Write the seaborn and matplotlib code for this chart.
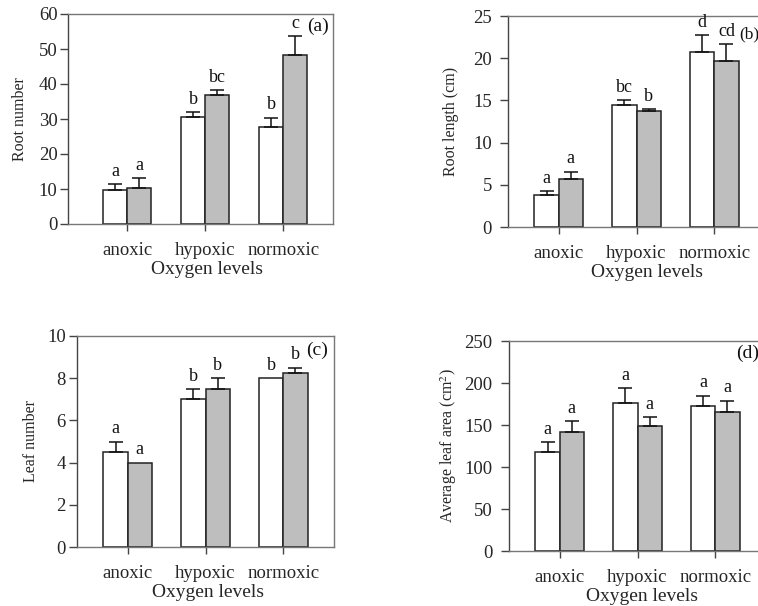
"""Root and leaf traits under three oxygen levels (four-panel bar chart)"""

import matplotlib
matplotlib.use('Agg')
import matplotlib.pyplot as plt
from matplotlib.container import BarContainer
import pandas as pd
import seaborn as sns

# categories
levels = ['anoxic', 'hypoxic', 'normoxic']
groups = ['white', 'grey']

# (a) root number
root_num_white = [9.7, 30.6, 27.6]
root_num_white_err = [1.8, 1.4, 2.8]
root_num_grey = [10.4, 36.9, 48.4]
root_num_grey_err = [2.7, 1.3, 5.4]
root_num_letters = [['a', 'b', 'b'], ['a', 'bc', 'c']]

# (b) root length
root_len_white = [3.83, 14.4, 20.75]
root_len_white_err = [0.4, 0.6, 1.95]
root_len_grey = [5.73, 13.7, 19.7]
root_len_grey_err = [0.83, 0.3, 1.95]
root_len_letters = [['a', 'bc', 'd'], ['a', 'b', 'cd']]

# (c) leaf number
leaf_num_white = [4.5, 7.0, 8.0]
leaf_num_white_err = [0.5, 0.5, 0.0]
leaf_num_grey = [4.0, 7.5, 8.25]
leaf_num_grey_err = [0.0, 0.5, 0.25]
leaf_num_letters = [['a', 'b', 'b'], ['a', 'b', 'b']]

# (d) average leaf area
leaf_area_white = [118.0, 175.8, 172.6]
leaf_area_white_err = [12.0, 18.2, 12.4]
leaf_area_grey = [141.3, 149.2, 165.5]
leaf_area_grey_err = [13.1, 10.3, 13.5]
leaf_area_letters = [['a', 'a', 'a'], ['a', 'a', 'a']]

sns.set_theme(style='white')
plt.rcParams['font.family'] = ['Liberation Serif', 'DejaVu Serif']
plt.rcParams['mathtext.fontset'] = 'stix'

W, H = 758, 606
fig = plt.figure(figsize=(W / 100, H / 100), dpi=100)


def px_axes(left, top, right, bottom):
    return fig.add_axes([left / W, 1 - bottom / H, (right - left) / W, (bottom - top) / H])


def panel(ax, white, white_err, grey, grey_err, letters, ylim, yticks, ylabel,
          tag, tag_xy, xlim, xlabel_x, ypad=3, lpad=8, tag_ha='center', tag_size=14):
    df = pd.DataFrame({
        'level': levels * 2,
        'group': [groups[0]] * 3 + [groups[1]] * 3,
        'value': list(white) + list(grey),
    })
    sns.barplot(data=df, x='level', y='value', hue='group', order=levels,
                hue_order=groups, palette=['white', '#bebebe'], width=0.62, gap=0,
                edgecolor='#222222', linewidth=1.1, errorbar=None, legend=False, ax=ax)
    errs = [white_err, grey_err]
    vals = [white, grey]
    span = ylim[1] - ylim[0]
    bars = [c for c in ax.containers if isinstance(c, BarContainer)]
    for gi, cont in enumerate(bars):
        for i, bar in enumerate(cont):
            xc = bar.get_x() + bar.get_width() / 2
            top = vals[gi][i] + errs[gi][i]
            if errs[gi][i] > 0:
                ax.errorbar(xc, vals[gi][i], yerr=[[0], [errs[gi][i]]], fmt='none',
                            ecolor='#111111', elinewidth=1.1, capsize=5, capthick=1.1)
            ax.text(xc, top + span * 0.02, letters[gi][i], ha='center', va='bottom',
                    fontsize=13, color='#111111')
    ax.set_xlim(*xlim)
    ax.set_ylim(*ylim)
    ax.set_yticks(yticks)
    ax.set_xlabel('Oxygen levels', fontsize=14)
    ax.xaxis.label.set_va('center')
    ax.xaxis.set_label_coords(xlabel_x, -0.215)
    ax.set_ylabel(ylabel, fontsize=11.5, labelpad=lpad)
    ax.tick_params(axis='y', direction='out', length=6, width=1, color='#444444',
                   labelsize=13.5, pad=ypad, left=True)
    ax.tick_params(axis='x', direction='out', length=5, width=1, color='#444444',
                   labelsize=13.5, pad=8, bottom=True)
    for side in ['top', 'right', 'bottom']:
        ax.spines[side].set_color('#777777')
        ax.spines[side].set_linewidth(1)
    ax.spines['left'].set_color('#444444')
    ax.spines['left'].set_linewidth(1)
    ax.text(tag_xy[0], tag_xy[1], tag, transform=ax.transAxes, ha=tag_ha,
            va='center', fontsize=tag_size, color='#111111')


ax_a = px_axes(68, 14, 333, 224)
panel(ax_a, root_num_white, root_num_white_err, root_num_grey, root_num_grey_err,
      root_num_letters, (0, 60), range(0, 61, 10), 'Root number', '(a)', (0.945, 0.94),
      (-0.76, 2.64), 0.525, ypad=1.5, lpad=8)

ax_b = px_axes(508, 16, 765, 227)
panel(ax_b, root_len_white, root_len_white_err, root_len_grey, root_len_grey_err,
      root_len_letters, (0, 25), range(0, 26, 5), 'Root length (cm)', '(b)',
      ((739 - 508) / 257, 0.915), (-0.65, 2.65), 0.54, ypad=5.5, lpad=10,
      tag_ha='left', tag_size=12.5)

ax_c = px_axes(77, 336, 334, 547)
panel(ax_c, leaf_num_white, leaf_num_white_err, leaf_num_grey, leaf_num_grey_err,
      leaf_num_letters, (0, 10), range(0, 11, 2), 'Leaf number', '(c)', (0.935, 0.93),
      (-0.65, 2.65), 0.51, ypad=2, lpad=6)

ax_d = px_axes(509, 341, 766, 551)
panel(ax_d, leaf_area_white, leaf_area_white_err, leaf_area_grey, leaf_area_grey_err,
      leaf_area_letters, (0, 250), range(0, 251, 50), 'Average leaf area (cm$^2$)', '(d)',
      (0.93, 0.94), (-0.65, 2.65), 0.517, ypad=6, lpad=3.5)

fig.savefig('out.png', dpi=100, facecolor='white')
